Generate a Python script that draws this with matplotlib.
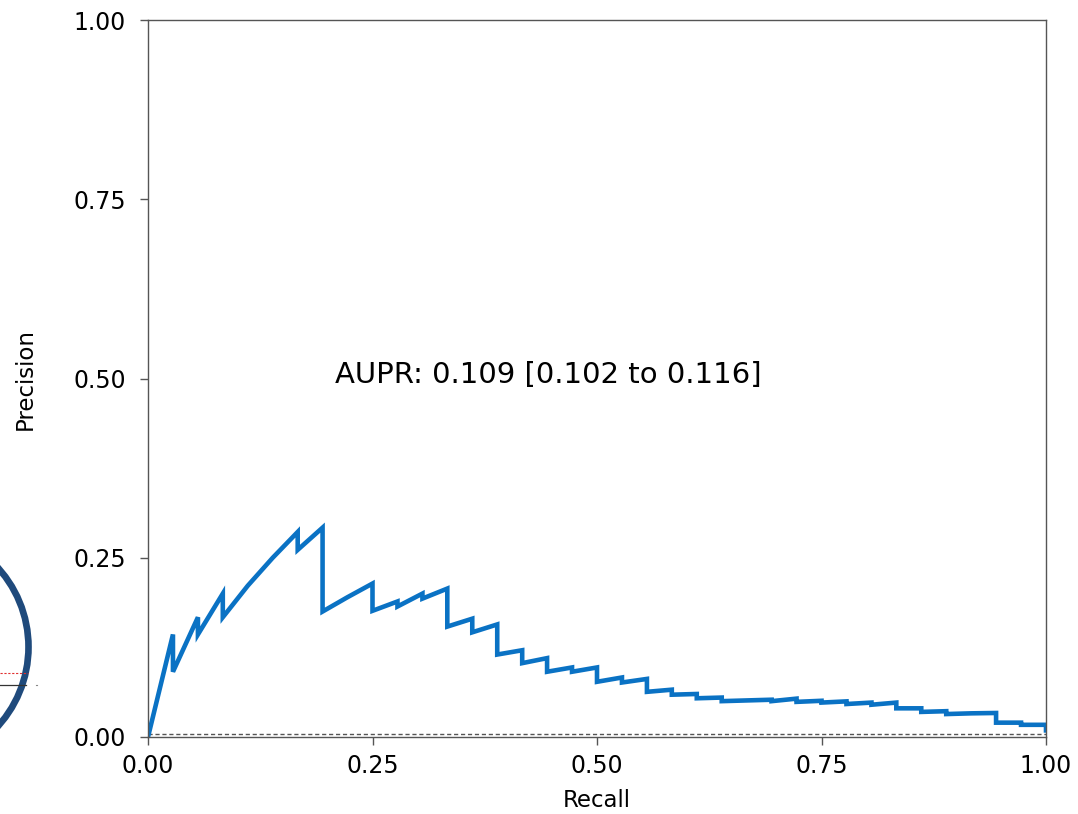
import matplotlib

matplotlib.use("Agg")

import matplotlib.pyplot as plt
from matplotlib.lines import Line2D
from matplotlib.patches import Circle

# Precision-recall curve (step points, 36 positives)
recall = [
    0.0, 0.0278, 0.0278, 0.0556, 0.0556, 0.0833, 0.0833, 0.1111, 0.1389,
    0.1667, 0.1667, 0.1944, 0.1944, 0.2222, 0.2500, 0.2500, 0.2778, 0.2778,
    0.3056, 0.3056, 0.3333, 0.3333, 0.3611, 0.3611, 0.3889, 0.3889, 0.4167,
    0.4167, 0.4444, 0.4444, 0.4722, 0.4722, 0.5000, 0.5000, 0.5278, 0.5278,
    0.5556, 0.5556, 0.5833, 0.5833, 0.6111, 0.6111, 0.6389, 0.6389, 0.6667,
    0.6944, 0.6944, 0.7222, 0.7222, 0.7500, 0.7500, 0.7778, 0.7778, 0.8056,
    0.8056, 0.8333, 0.8333, 0.8611, 0.8611, 0.8889, 0.8889, 0.9167, 0.9444,
    0.9444, 0.9722, 0.9722, 1.0, 1.0,
]
precision = [
    0.0, 0.143, 0.091, 0.167, 0.143, 0.200, 0.167, 0.211, 0.250,
    0.286, 0.261, 0.292, 0.175, 0.195, 0.214, 0.176, 0.189, 0.182,
    0.200, 0.193, 0.207, 0.154, 0.165, 0.146, 0.157, 0.115, 0.121,
    0.103, 0.110, 0.091, 0.097, 0.091, 0.097, 0.077, 0.083, 0.076,
    0.081, 0.063, 0.066, 0.059, 0.060, 0.054, 0.055, 0.050, 0.051,
    0.052, 0.050, 0.0535, 0.049, 0.0505, 0.048, 0.0497, 0.046, 0.048,
    0.045, 0.048, 0.040, 0.040, 0.035, 0.036, 0.032, 0.033, 0.0335,
    0.020, 0.020, 0.017, 0.017, 0.006,
]
prevalence = 0.0042
aupr_label = "AUPR: 0.109 [0.102 to 0.116]"
ticks = [0.0, 0.25, 0.5, 0.75, 1.0]
tick_labels = ["0.00", "0.25", "0.50", "0.75", "1.00"]

plt.rcParams["font.family"] = ["DejaVu Sans"]

fig = plt.figure(figsize=(10.78, 8.14), dpi=100)
ax = fig.add_axes([148 / 1078, 77 / 814, 898 / 1078, 717 / 814])

ax.axhline(prevalence, color="#555555", linestyle=(0, (3, 2)), linewidth=1.0)
ax.plot(recall, precision, color="#0a72c4", linewidth=3.3,
        solid_joinstyle="miter", solid_capstyle="butt")

ax.text(0.208, 0.505, aupr_label, fontsize=21, ha="left", va="center")

ax.set_xlim(0, 1)
ax.set_ylim(0, 1)
ax.set_xticks(ticks)
ax.set_xticklabels(tick_labels)
ax.set_yticks(ticks)
ax.set_yticklabels(tick_labels)
ax.tick_params(direction="out", length=6, width=1.0, color="#555555",
               labelsize=17)
ax.tick_params(axis="x", pad=6)
ax.tick_params(axis="y", pad=10)
for spine in ax.spines.values():
    spine.set_color("#555555")
    spine.set_linewidth(1.0)
ax.set_xlabel("Recall", fontsize=16.5, labelpad=8)
ax.set_ylabel("Precision", fontsize=16.5, labelpad=26)

# partial inset ring and guide lines at the left edge
ring = Circle((-0.895, 1.67), 1.18, transform=fig.dpi_scale_trans,
              fill=False, edgecolor="#1f4a7c", linewidth=4.8, clip_on=False)
fig.add_artist(ring)
fig.add_artist(Line2D([0, 0.28], [1.41, 1.41], transform=fig.dpi_scale_trans,
                      color="#e03030", linestyle=(0, (2, 1.5)), linewidth=0.8))
fig.add_artist(Line2D([0, 0.26], [1.29, 1.29], transform=fig.dpi_scale_trans,
                      color="#333333", linewidth=0.9))
fig.add_artist(Line2D([0.355, 0.365], [1.29, 1.29], transform=fig.dpi_scale_trans,
                      color="#888888", linewidth=0.8))

fig.savefig("out.png", dpi=100)
